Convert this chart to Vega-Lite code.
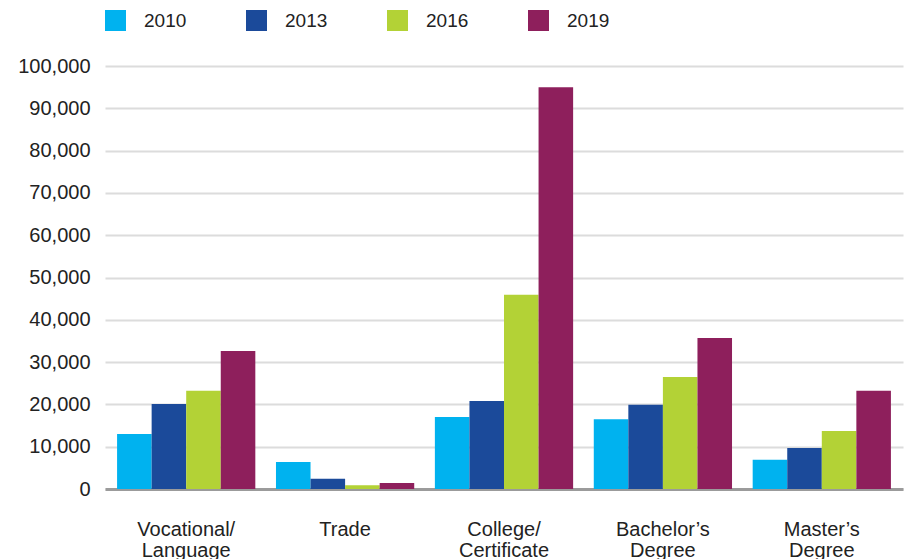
{
  "$schema": "https://vega.github.io/schema/vega-lite/v6.json",
  "autosize": {"type": "none"},
  "padding": {"left": 105, "top": 66, "right": 1, "bottom": 70},
  "width": 798,
  "height": 423,
  "background": "white",
  "config": {
    "font": "Liberation Sans",
    "view": {"stroke": null}
  },
  "data": {
    "values": [
      {"category": "Vocational/ Language", "year": "2010", "value": 13000},
      {"category": "Vocational/ Language", "year": "2013", "value": 20100},
      {"category": "Vocational/ Language", "year": "2016", "value": 23200},
      {"category": "Vocational/ Language", "year": "2019", "value": 32600},
      {"category": "Trade", "year": "2010", "value": 6400},
      {"category": "Trade", "year": "2013", "value": 2400},
      {"category": "Trade", "year": "2016", "value": 900},
      {"category": "Trade", "year": "2019", "value": 1400},
      {"category": "College/ Certificate", "year": "2010", "value": 17000},
      {"category": "College/ Certificate", "year": "2013", "value": 20800},
      {"category": "College/ Certificate", "year": "2016", "value": 45900},
      {"category": "College/ Certificate", "year": "2019", "value": 95000},
      {"category": "Bachelor’s Degree", "year": "2010", "value": 16500},
      {"category": "Bachelor’s Degree", "year": "2013", "value": 19900},
      {"category": "Bachelor’s Degree", "year": "2016", "value": 26500},
      {"category": "Bachelor’s Degree", "year": "2019", "value": 35700},
      {"category": "Master’s Degree", "year": "2010", "value": 6900},
      {"category": "Master’s Degree", "year": "2013", "value": 9700},
      {"category": "Master’s Degree", "year": "2016", "value": 13700},
      {"category": "Master’s Degree", "year": "2019", "value": 23200}
    ]
  },
  "mark": {"type": "bar"},
  "encoding": {
    "x": {
      "field": "category",
      "type": "nominal",
      "sort": null,
      "scale": {"paddingInner": 0.13, "paddingOuter": 0.076},
      "axis": {
        "title": null,
        "labelAngle": 0,
        "labelExpr": "split(datum.label, ' ')",
        "labelFontSize": 20,
        "labelColor": "#222222",
        "labelLineHeight": 21,
        "labelPadding": 30,
        "ticks": false,
        "domain": true,
        "domainColor": "#9b9b9b",
        "domainWidth": 3,
        "labelLimit": 300
      }
    },
    "xOffset": {"field": "year", "type": "nominal", "sort": null, "scale": {"paddingInner": 0, "paddingOuter": 0}},
    "y": {
      "field": "value",
      "type": "quantitative",
      "scale": {"domain": [0, 100000], "nice": false},
      "axis": {
        "title": null,
        "values": [0, 10000, 20000, 30000, 40000, 50000, 60000, 70000, 80000, 90000, 100000],
        "format": ",.0f",
        "labelFontSize": 20,
        "labelColor": "#222222",
        "labelPadding": 15,
        "ticks": false,
        "domain": false,
        "grid": true,
        "gridColor": "#dcdcdc",
        "gridWidth": 2
      }
    },
    "color": {
      "field": "year",
      "type": "nominal",
      "scale": {
        "domain": ["2010", "2013", "2016", "2019"],
        "range": ["#00b2ef", "#1b4a9a", "#b3d236", "#8e1f5c"]
      },
      "legend": {
        "title": null,
        "orient": "none",
        "legendX": 0,
        "legendY": -56,
        "direction": "horizontal",
        "columns": 4,
        "symbolType": "square",
        "symbolSize": 441,
        "symbolStrokeWidth": 0,
        "symbolOpacity": 1,
        "labelFontSize": 19,
        "labelColor": "#222222",
        "labelOffset": 18,
        "columnPadding": 59,
        "padding": 0
      }
    }
  }
}
